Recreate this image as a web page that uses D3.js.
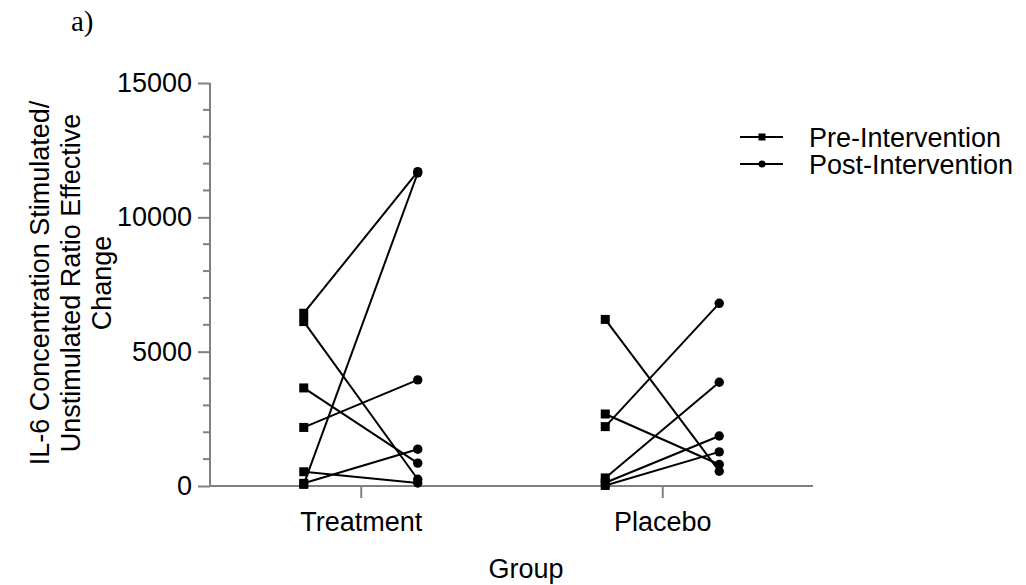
<!DOCTYPE html>
<html>
<head>
<meta charset="utf-8">
<script src="https://cdn.jsdelivr.net/npm/d3@7"></script>
<style>
  body { margin: 0; background: #fff; }
  svg { display: block; font-family: Arial, "Liberation Sans", sans-serif; }
</style>
</head>
<body>
<svg width="1026" height="585"></svg>
<script>
(function(){
	'use strict';

	// data
	const groups = ['Treatment', 'Placebo'];
	const treatmentPre  = [6430, 6120, 3650, 2180, 530, 100, 60];
	const treatmentPost = [11700, 250, 850, 3950, 110, 1370, 11650];
	const placeboPre  = [6200, 2680, 2210, 300, 120, 20];
	const placeboPost = [550, 800, 6800, 3860, 1860, 1270];
	const yTicks = [0, 5000, 10000, 15000];
	const seriesNames = ['Pre-Intervention', 'Post-Intervention'];

	const svg = d3.select('svg');
	const axisColor = '#808080';
	const fontSize = 27;

	const x0 = 210, x1 = 813;
	const yTop = 83, yBottom = 486;
	const offset = 57;

	const x = d3.scalePoint()
		.domain(groups)
		.range([x0 + (x1 - x0) / 4, x1 - (x1 - x0) / 4]);

	const y = d3.scaleLinear()
		.domain([0, 15000])
		.range([yBottom, yTop]);

	const pairs = [
		{ group: 'Treatment', pre: treatmentPre, post: treatmentPost },
		{ group: 'Placebo', pre: placeboPre, post: placeboPost }
	];

	// axes
	const yAxis = svg.append('g')
		.attr('transform', `translate(${x0},0)`)
		.call(d3.axisLeft(y).tickValues(yTicks).tickSize(12).tickPadding(6).tickFormat(d3.format('d')));
	yAxis.append('g')
		.selectAll('line')
		.data(d3.range(1000, 15000, 1000).filter(v => v % 5000 !== 0))
		.join('line')
			.attr('x1', -7)
			.attr('x2', 0)
			.attr('y1', d => y(d))
			.attr('y2', d => y(d));
	yAxis.select('.domain').attr('d', `M0,${yTop}V${yBottom}`);
	yAxis.selectAll('line').attr('stroke', axisColor).attr('stroke-width', 2);
	yAxis.selectAll('.domain').attr('stroke', axisColor).attr('stroke-width', 2);
	yAxis.selectAll('text').attr('font-size', fontSize).attr('fill', '#000').attr('font-family', 'Arial, "Liberation Sans", sans-serif');

	const xAxis = svg.append('g')
		.attr('transform', `translate(0,${yBottom})`)
		.call(d3.axisBottom(x).tickSize(12).tickPadding(14));
	xAxis.select('.domain').attr('d', `M${x0},0H${x1}`).attr('stroke', axisColor).attr('stroke-width', 2);
	xAxis.selectAll('line').attr('stroke', axisColor).attr('stroke-width', 2);
	xAxis.selectAll('text').attr('font-size', fontSize).attr('fill', '#000').attr('font-family', 'Arial, "Liberation Sans", sans-serif');

	// paired lines and markers
	const g = svg.append('g');
	pairs.forEach(p => {
		const cx = x(p.group);
		p.pre.forEach((v, i) => {
			g.append('line')
				.attr('x1', cx - offset)
				.attr('y1', y(v))
				.attr('x2', cx + offset)
				.attr('y2', y(p.post[i]))
				.attr('stroke', '#000')
				.attr('stroke-width', 2);
		});
		g.selectAll(null)
			.data(p.pre)
			.join('rect')
				.attr('x', cx - offset - 4.5)
				.attr('y', d => y(d) - 4.5)
				.attr('width', 9)
				.attr('height', 9)
				.attr('fill', '#000');
		g.selectAll(null)
			.data(p.post)
			.join('circle')
				.attr('cx', cx + offset)
				.attr('cy', d => y(d))
				.attr('r', 4.7)
				.attr('fill', '#000');
	});

	// titles
	svg.append('text')
		.attr('x', 526)
		.attr('y', 578)
		.attr('text-anchor', 'middle')
		.attr('font-size', fontSize)
		.text('Group');

	const yLabel = svg.append('text')
		.attr('transform', `translate(0,283) rotate(-90)`)
		.attr('text-anchor', 'middle')
		.attr('font-size', fontSize);
	['IL-6 Concentration Stimulated/', 'Unstimulated Ratio Effective', 'Change'].forEach((t, i) => {
		yLabel.append('tspan')
			.attr('x', 0)
			.attr('y', 49 + i * 31)
			.text(t);
	});

	svg.append('text')
		.attr('x', 71)
		.attr('y', 31)
		.attr('font-family', '"Liberation Serif", "Times New Roman", serif')
		.attr('font-size', 29)
		.text('a)');

	// legend
	const legend = svg.append('g');
	seriesNames.forEach((name, i) => {
		const ly = 137 + i * 27;
		legend.append('line')
			.attr('x1', 740).attr('x2', 783)
			.attr('y1', ly).attr('y2', ly)
			.attr('stroke', '#000').attr('stroke-width', 2);
		if (i === 0) {
			legend.append('rect')
				.attr('x', 758.5).attr('y', ly - 3.5)
				.attr('width', 7).attr('height', 7)
				.attr('fill', '#000');
		} else {
			legend.append('circle')
				.attr('cx', 762).attr('cy', ly)
				.attr('r', 3.5)
				.attr('fill', '#000');
		}
		legend.append('text')
			.attr('x', 809)
			.attr('y', ly + 10)
			.attr('font-size', fontSize)
			.text(name);
	});
})();
</script>
</body>
</html>
